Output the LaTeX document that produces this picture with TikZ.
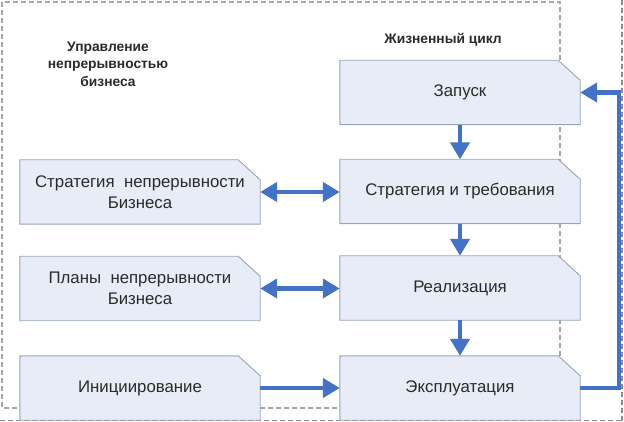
\documentclass[tikz,border=0pt]{standalone}
\usepackage{fontspec}
\setmainfont{Liberation Sans}
\usetikzlibrary{arrows.meta,backgrounds}
\definecolor{boxfill}{HTML}{E7ECF6}
\definecolor{boxline}{HTML}{96A4BA}
\definecolor{arrowblue}{HTML}{4472C4}
\definecolor{txt}{HTML}{2A2A2A}
\tikzset{
  box/.style={minimum width=240pt,minimum height=64pt,inner sep=0pt,align=center,
    font=\fontsize{16.8}{21}\selectfont,text=txt},
  flow/.style={draw=arrowblue,line width=4.5pt,-{Triangle[length=17pt,width=19pt]}},
  flowboth/.style={draw=arrowblue,line width=4.5pt,{Triangle[length=17pt,width=19pt]}-{Triangle[length=17pt,width=19pt]}},
  frame/.style={draw=gray!70,line width=1.1pt,dash pattern=on 5pt off 3pt},
  frameb/.style={draw=gray!110!black,line width=1.2pt,dash pattern=on 5pt off 3pt},
  title/.style={font=\bfseries\fontsize{13.8}{17.5}\selectfont,text=txt,align=center},
  cutshape/.style={fill=boxfill,draw=boxline,line width=0.9pt}
}
\begin{document}
\begin{tikzpicture}[x=1pt,y=-1pt]
\useasboundingbox (0,0) rectangle (624,422);
% titles
\node[title] (t1) at (108,64) {Управление\\непрерывностью\\бизнеса};
\node[title] (t2) at (443,40) {Жизненный цикл};
% right column
\node[box] (zap) at (460,92.5) {Запуск};
\node[box] (str) at (460,191.5) {Стратегия и требования};
\node[box] (real) at (460,288) {Реализация};
\node[box] (eks) at (460,388) {Эксплуатация};
% left column
\node[box] (lstr) at (140,192) {Стратегия\ \ непрерывности\\Бизнеса};
\node[box] (lpl) at (140,288.5) {Планы\ \ непрерывности\\Бизнеса};
\node[box] (ini) at (140,388) {Инициирование};
\begin{scope}[on background layer]
% frames
\draw[frame] (2,2) rectangle (560,408);
\draw[frameb] (622,0) -- (622,422);
\draw[frameb] (0,420.5) -- (624,420.5);
\foreach \n in {zap,str,real,eks,lstr,lpl,ini}{
  \draw[cutshape] (\n.south west) -- (\n.north west) -- ([xshift=-22pt]\n.north east)
     -- ([yshift=-20pt]\n.north east) -- (\n.south east) -- cycle;
}
\end{scope}
% arrows
\draw[flow] (zap.south) -- (str.north);
\draw[flow] (str.south) -- (real.north);
\draw[flow] (real.south) -- (eks.north);
\draw[flowboth] (lstr.east) -- (str.west |- lstr.east);
\draw[flowboth] (lpl.east) -- (real.west |- lpl.east);
\draw[flow] (ini.east) -- (eks.west);
\coordinate (c1) at (619,388);
\coordinate (c2) at (619,92.5);
\draw[flow] (eks.east) -- (c1) -- (c2) -- (zap.east);
\end{tikzpicture}
\end{document}
